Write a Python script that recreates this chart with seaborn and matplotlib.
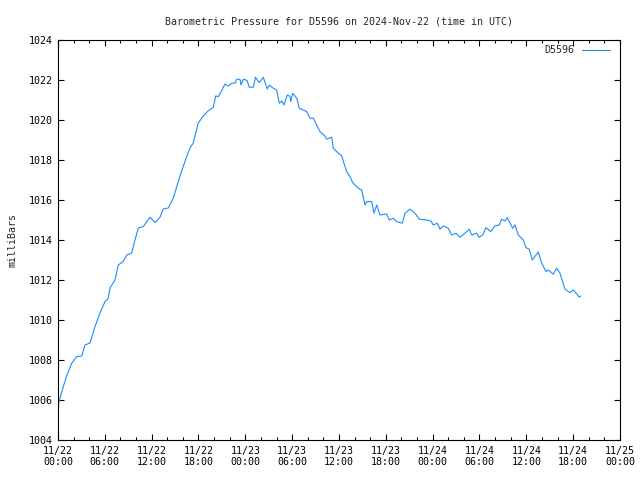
import matplotlib
matplotlib.use("Agg")
import matplotlib.pyplot as plt
import matplotlib.dates as mdates
import seaborn as sns
import pandas as pd

# hours after 2024-11-22 00:00 UTC
hours = [0.04, 0.26, 0.68, 1.15, 1.76, 2.40, 3.04, 3.46, 4.10, 4.74, 5.38, 6.02, 6.41, 6.66,
         7.30, 7.72, 8.33, 8.80, 9.44, 9.86, 10.29, 10.93, 11.79, 12.43, 13.07, 13.49, 14.13,
         14.77, 15.41, 15.89, 16.49, 16.91, 17.33, 17.68, 17.97, 18.61, 19.22, 19.90, 20.20,
         20.54, 21.01, 21.39, 21.82, 22.25, 22.68, 22.89, 23.32, 23.44, 23.74, 24.21, 24.51,
         25.02, 25.30, 25.79, 26.30, 26.81, 27.07, 27.54, 28.02, 28.35, 28.70, 28.95, 29.38,
         29.72, 29.81, 30.07, 30.58, 30.91, 31.43, 31.86, 32.28, 32.71, 33.14, 33.56, 34.20,
         34.42, 35.06, 35.27, 35.70, 36.34, 36.98, 37.41, 37.75, 38.47, 38.91, 39.33, 39.54,
         40.19, 40.48, 40.83, 41.25, 42.11, 42.44, 42.95, 43.39, 44.11, 44.45, 45.09, 45.73,
         46.28, 47.23, 47.78, 48.08, 48.59, 48.94, 49.36, 50.00, 50.44, 50.99, 51.50, 52.14,
         52.69, 53.00, 53.64, 53.93, 54.41, 54.83, 55.43, 55.98, 56.53, 56.84, 57.26, 57.56,
         58.25, 58.55, 58.97, 59.61, 59.95, 60.38, 60.76, 61.53, 61.97, 62.52, 62.81, 63.45,
         63.89, 64.31, 64.95, 65.59, 66.01, 66.36, 66.78, 66.96]
pressure = [1005.75, 1006.1, 1006.67, 1007.25, 1007.84, 1008.17, 1008.2, 1008.75, 1008.85,
            1009.67, 1010.35, 1010.92, 1011.05, 1011.6, 1012.0, 1012.75, 1012.92, 1013.25,
            1013.35, 1014.0, 1014.6, 1014.67, 1015.14, 1014.87, 1015.14, 1015.55, 1015.6,
            1016.1, 1016.92, 1017.5, 1018.17, 1018.6, 1018.85, 1019.4, 1019.85, 1020.2,
            1020.45, 1020.64, 1021.2, 1021.17, 1021.5, 1021.8, 1021.7, 1021.84, 1021.84,
            1022.04, 1022.03, 1021.75, 1022.04, 1021.98, 1021.64, 1021.64, 1022.14, 1021.87,
            1022.14, 1021.55, 1021.74, 1021.6, 1021.5, 1020.84, 1020.95, 1020.75, 1021.25,
            1021.18, 1020.92, 1021.34, 1021.09, 1020.59, 1020.5, 1020.42, 1020.09, 1020.09,
            1019.75, 1019.42, 1019.2, 1019.04, 1019.14, 1018.59, 1018.42, 1018.2, 1017.42,
            1017.17, 1016.87, 1016.59, 1016.5, 1015.75, 1015.92, 1015.92, 1015.34, 1015.75,
            1015.25, 1015.3, 1015.0, 1015.09, 1014.92, 1014.84, 1015.34, 1015.54, 1015.34,
            1015.04, 1015.0, 1014.95, 1014.75, 1014.84, 1014.54, 1014.7, 1014.59, 1014.25,
            1014.34, 1014.14, 1014.34, 1014.54, 1014.25, 1014.34, 1014.14, 1014.25, 1014.62,
            1014.42, 1014.7, 1014.75, 1015.04, 1014.95, 1015.12, 1014.59, 1014.75, 1014.25,
            1014.0, 1013.62, 1013.54, 1013.0, 1013.4, 1012.84, 1012.42, 1012.5, 1012.29,
            1012.59, 1012.34, 1011.54, 1011.37, 1011.5, 1011.35, 1011.14, 1011.2]

station = "D5596"
title = "Barometric Pressure for D5596 on 2024-Nov-22 (time in UTC)"
ylabel = "milliBars"
start = pd.Timestamp("2024-11-22 00:00")
end = pd.Timestamp("2024-11-25 00:00")
y_min, y_max = 1004, 1024

df = pd.DataFrame({
    "time": start + pd.to_timedelta(hours, unit="h"),
    "pressure": pressure,
    "station": station,
})

sns.set_style("ticks")
plt.rcParams["font.family"] = ["DejaVu Sans Mono"]
plt.rcParams["font.size"] = 7.2

fig = plt.figure(figsize=(6.4, 4.8), dpi=100)
ax = fig.add_axes([58 / 640, 40 / 480, 562 / 640, 400 / 480])

sns.lineplot(data=df, x="time", y="pressure", hue="station", palette=["#1a8cff"],
             linewidth=0.8, ax=ax)

ax.set_xlim(start, end)
ax.set_ylim(y_min, y_max)
ax.set_yticks(range(y_min, y_max + 1, 2))
ax.xaxis.set_major_locator(mdates.HourLocator(byhour=range(0, 24, 6)))
ax.xaxis.set_minor_locator(mdates.HourLocator(byhour=range(0, 24, 2)))
ax.xaxis.set_major_formatter(mdates.DateFormatter("%m/%d\n%H:%M"))

ax.tick_params(axis="both", which="both", direction="in", top=True, right=True,
               colors="black", labelsize=7.2, width=0.8)
ax.tick_params(axis="both", which="major", length=4.5, pad=4)
ax.tick_params(axis="both", which="minor", length=2.5)
for s in ax.spines.values():
    s.set_linewidth(0.8)
    s.set_color("black")

ax.set_xlabel("")
ax.set_ylabel(ylabel, fontsize=7.2, labelpad=8)
ax.set_title(title, fontsize=7.2, pad=11)

leg = ax.legend(loc="upper right", frameon=False, markerfirst=False,
                handlelength=2.8, fontsize=7.2, borderaxespad=0.15,
                bbox_to_anchor=(0.992, 1.0))

fig.savefig("out.png", dpi=100)
